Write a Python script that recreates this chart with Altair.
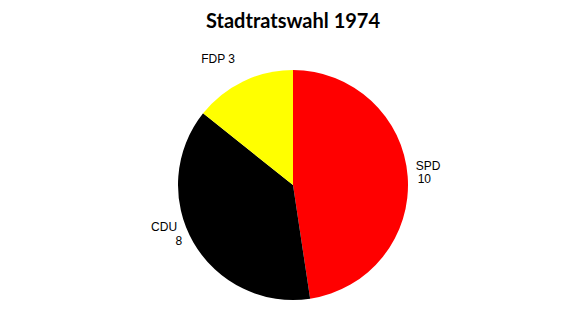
import altair as alt
import pandas as pd

parties = ["SPD", "CDU", "FDP"]
seats = [10, 8, 3]
colors = ["#FF0000", "#000000", "#FFFF00"]
order = [0, 1, 2]

df = pd.DataFrame({"party": parties, "seats": seats, "ord": order})
df["seats_label"] = df["seats"].astype(str)
df["full_label"] = df["party"] + " " + df["seats_label"]

base = alt.Chart(df).encode(
    theta=alt.Theta("seats:Q", stack=True),
    order=alt.Order("ord:Q"),
)

pie = base.mark_arc(outerRadius=115).encode(
    color=alt.Color("party:N", scale=alt.Scale(domain=parties, range=colors), legend=None)
)

def lab(party, field, align, dx, dy):
    return base.mark_text(
        radius=120, align=align, baseline="alphabetic", dx=dx, dy=dy,
        font="Liberation Sans", fontSize=12, color="#000000"
    ).encode(text=alt.condition(alt.datum.party == party, alt.Text(f"{field}:N"), alt.value("")))

layers = [
    pie,
    lab("SPD", "party", "left", 3, -6),
    lab("SPD", "seats_label", "left", 5, 7),
    lab("CDU", "party", "right", -12, -14),
    lab("CDU", "seats_label", "right", -7, 0),
    lab("FDP", "full_label", "right", -6, -14),
]

chart = alt.layer(*layers).properties(
    width=578, height=280,
    padding={"top": 45, "left": 4, "right": 0, "bottom": 0},
    autosize=alt.AutoSizeParams(type="none"),
    title=alt.TitleParams(
        "Stadtratswahl 1974", anchor="middle", font="Lato", fontSize=20,
        fontWeight="bold", color="#000000", offset=-3, baseline="alphabetic"
    ),
).configure_view(stroke=None).configure(background="white")

chart.save("out.html", embed_options={"renderer": "svg", "actions": False})
